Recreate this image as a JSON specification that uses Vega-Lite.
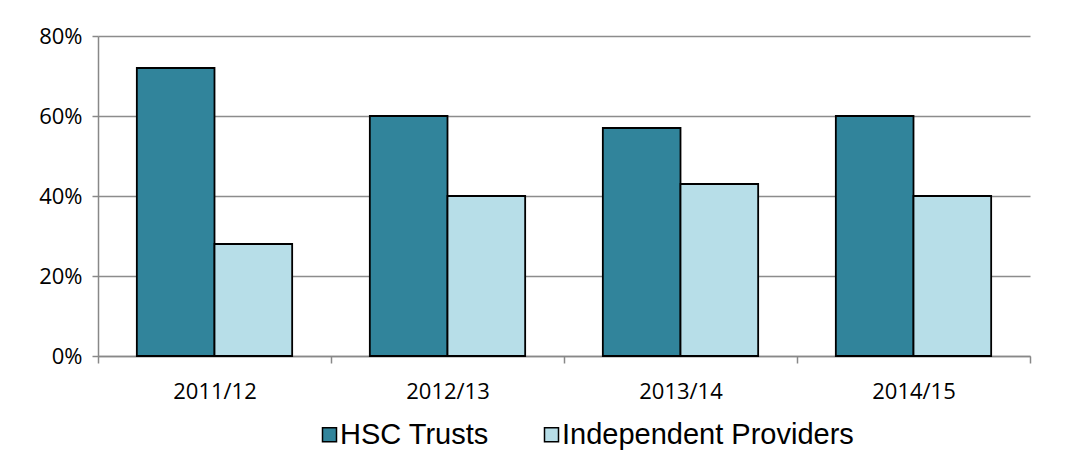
{
  "$schema": "https://vega.github.io/schema/vega-lite/v6.json",
  "autosize": "none",
  "width": 932,
  "height": 320,
  "padding": {"left": 98, "top": 36, "right": 42, "bottom": 98},
  "background": "white",
  "data": {
    "values": [
      {"year": "2011/12", "provider": "HSC Trusts", "value": 0.72},
      {"year": "2011/12", "provider": "Independent Providers", "value": 0.28},
      {"year": "2012/13", "provider": "HSC Trusts", "value": 0.60},
      {"year": "2012/13", "provider": "Independent Providers", "value": 0.40},
      {"year": "2013/14", "provider": "HSC Trusts", "value": 0.57},
      {"year": "2013/14", "provider": "Independent Providers", "value": 0.43},
      {"year": "2014/15", "provider": "HSC Trusts", "value": 0.60},
      {"year": "2014/15", "provider": "Independent Providers", "value": 0.40}
    ]
  },
  "mark": {"type": "bar", "stroke": "black", "strokeWidth": 1.8},
  "encoding": {
    "x": {
      "field": "year",
      "type": "nominal",
      "title": null,
      "scale": {"paddingInner": 0, "paddingOuter": 0},
      "axis": {
        "labelAngle": 0,
        "tickBand": "extent",
        "labelFont": "Open Sans",
        "labelFontSize": 22,
        "labelColor": "black",
        "labelPadding": 18,
        "domainColor": "#888888",
        "domainWidth": 1.5,
        "tickColor": "#888888",
        "tickWidth": 1.5,
        "tickSize": 7,
        "grid": false
      }
    },
    "xOffset": {
      "field": "provider",
      "type": "nominal",
      "scale": {"paddingInner": 0, "paddingOuter": 0.5}
    },
    "y": {
      "field": "value",
      "type": "quantitative",
      "title": null,
      "scale": {"domain": [0, 0.8], "nice": false},
      "axis": {
        "values": [0, 0.2, 0.4, 0.6, 0.8],
        "format": ".0%",
        "labelFont": "Open Sans",
        "labelFontSize": 22,
        "labelColor": "black",
        "labelPadding": 10,
        "domainColor": "#888888",
        "domainWidth": 1.5,
        "tickColor": "#888888",
        "tickWidth": 1.5,
        "tickSize": 6,
        "grid": true,
        "gridColor": "#8c8c8c",
        "gridWidth": 1.5
      }
    },
    "color": {
      "field": "provider",
      "type": "nominal",
      "scale": {"domain": ["HSC Trusts", "Independent Providers"], "range": ["#31849B", "#B7DEE8"]},
      "legend": {
        "title": null,
        "orient": "none",
        "direction": "horizontal",
        "legendX": 217,
        "legendY": 384,
        "labelFont": "Liberation Sans",
        "labelFontSize": 29,
        "labelColor": "black",
        "labelLimit": 0,
        "labelOffset": -4,
        "columnPadding": 48,
        "symbolType": "square",
        "symbolSize": 196,
        "symbolStrokeColor": "black",
        "symbolStrokeWidth": 1.5,
        "symbolOpacity": 1
      }
    }
  },
  "config": {
    "view": {"stroke": null}
  }
}
